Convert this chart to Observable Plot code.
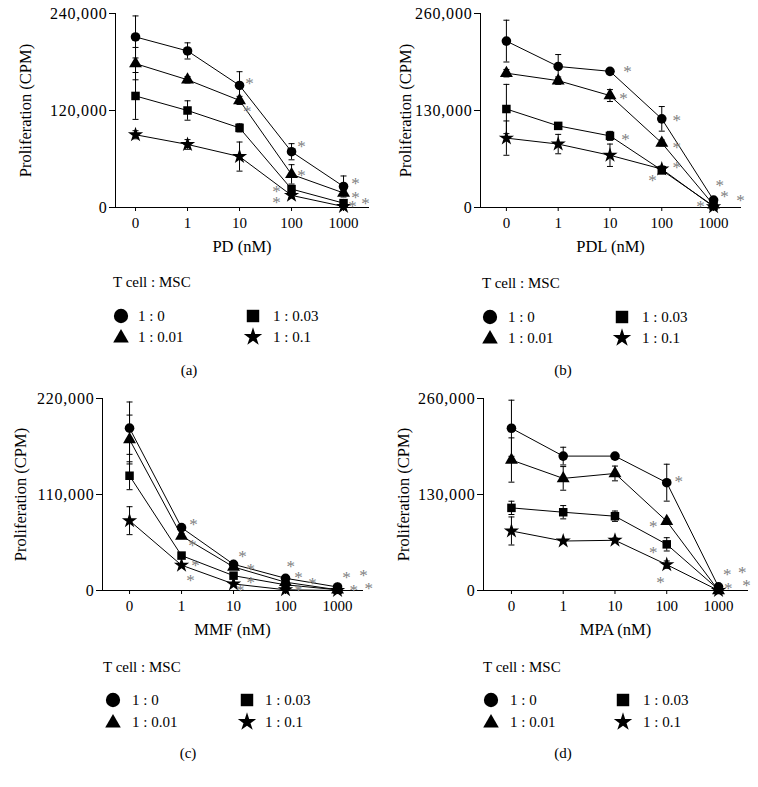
<!DOCTYPE html>
<html><head><meta charset="utf-8">
<script src="https://cdn.jsdelivr.net/npm/d3@7"></script>
<script src="https://cdn.jsdelivr.net/npm/@observablehq/plot@0.6"></script>
<style>
body{margin:0;background:#fff;}
#root{position:relative;width:758px;height:787px;background:#fff;font-family:"Liberation Serif","DejaVu Serif",serif;color:#000;overflow:hidden;}
.panel{position:absolute;}
.t{position:absolute;font-size:15px;white-space:nowrap;line-height:16px;height:16px;}
.sym{position:absolute;}
.ytk text{font-size:16px;letter-spacing:0.8px;}
</style></head><body><div id="root"></div>
<script>
// ---------- data ----------
const doses = ["0", "1", "10", "100", "1000"];
const seriesNames = ["1 : 0", "1 : 0.01", "1 : 0.03", "1 : 0.1"];
const seriesSymbols = ["circle", "triangle", "square", "star"];
const panelLetters = ["(a)", "(b)", "(c)", "(d)"];
const xLabels = ["PD (nM)", "PDL (nM)", "MMF (nM)", "MPA (nM)"];
const yMaxes = [240000, 260000, 220000, 260000];
const yLabel = "Proliferation (CPM)";
const legendTitle = "T cell : MSC";

// (a) PD
const aMean = [
  [211000, 193700, 151000, 69000, 26000],
  [178000, 158000, 132500, 41000, 18000],
  [138000, 120000, 98500, 22800, 5400],
  [90000, 78000, 63000, 15000, 1200]
];
const aErr = [
  [26000, 10000, 17000, 10000, 13000],
  [20000, 4000, 5000, 12000, 3000],
  [29000, 12000, 5000, 4000, 2000],
  [5000, 6000, 18000, 3000, 1000]
];
const aStars = [[2.19, 157100], [2.15, 122500], [3.19, 79200], [3.19, 43300], [2.71, 23500], [2.71, 9900],
  [4.23, 33400], [4.23, 16100], [4.17, 4900], [4.42, 8700]];

// (b) PDL
const bMean = [
  [223000, 189000, 182500, 118800, 10000],
  [180000, 170000, 150000, 86500, 3500],
  [132000, 109400, 96000, 50000, 2000],
  [93000, 85000, 70000, 51500, 1000]
];
const bErr = [
  [28000, 16000, 2000, 16500, 2000],
  [5000, 5000, 8000, 4000, 1000],
  [33000, 3000, 6000, 5000, 1000],
  [23000, 13000, 15000, 4000, 500]
];
const bStars = [[2.34, 186300], [2.26, 150100], [2.30, 95200], [3.29, 120600], [3.29, 84400], [3.29, 57600],
  [2.82, 40200], [4.12, 33500], [4.21, 18800], [4.52, 13400], [3.75, 5400]];

// (c) MMF
const cMean = [
  [186000, 72000, 30000, 14000, 4000],
  [173000, 62500, 27000, 9500, 800],
  [131500, 40000, 17000, 6500, 800],
  [80000, 29000, 7500, 800, 0]
];
const cErr = [
  [30000, 2000, 2000, 2000, 1000],
  [28000, 3000, 2000, 1500, 500],
  [16000, 2000, 2000, 1000, 300],
  [16000, 2000, 1500, 500, 200]
];
const cStars = [[1.23, 79100], [1.21, 55000], [1.27, 32100], [1.17, 14900], [2.17, 42400], [2.33, 27500],
  [2.33, 12600], [2.13, 3400], [3.10, 30900], [3.25, 18300], [3.52, 11500], [3.25, 3400],
  [4.17, 18300], [4.50, 20600], [4.31, 3400], [4.60, 5700]];

// (d) MPA
const dMean = [
  [219700, 182000, 182000, 146000, 5000],
  [176700, 151800, 158500, 93800, 0],
  [111900, 106000, 100600, 62500, 1300],
  [80600, 67000, 68000, 35000, 0]
];
const dErr = [
  [38000, 12000, 2000, 25000, 1000],
  [30000, 16000, 10000, 3000, 500],
  [9000, 9000, 7000, 9000, 500],
  [19000, 2000, 3000, 5000, 500]
];
const dStars = [[3.23, 151600], [2.74, 90700], [2.74, 55500], [2.88, 14900], [4.17, 25700], [4.46, 28400],
  [4.19, 6800], [4.54, 10800]];

// ---------- layout ----------
const layouts = [
  {left: 0, top: 0, width: 380, mL: 115, mR: 12, mT: 13, mB: 53, xd: [-0.385, 4.48], ylx: -90,
   leg: {tx: 113, ty: 282, r1: 316, r2: 337, s1: 121, t1: 138, s2: 253, t2: 273, cx: 189, cy: 370}},
  {left: 380, top: 0, width: 378, mL: 100, mR: 18, mT: 13, mB: 53, xd: [-0.5, 4.52], ylx: -75,
   leg: {tx: 482, ty: 283, r1: 317, r2: 338, s1: 490, t1: 508, s2: 622, t2: 642, cx: 563, cy: 370}},
  {left: 0, top: 385, width: 380, mL: 102, mR: 18, mT: 13, mB: 55, xd: [-0.52, 4.48], ylx: -82,
   leg: {tx: 103, ty: 667, r1: 700, r2: 722, s1: 113, t1: 132, s2: 247, t2: 265, cx: 188, cy: 753}},
  {left: 380, top: 385, width: 378, mL: 103, mR: 11, mT: 13, mB: 55, xd: [-0.54, 4.56], ylx: -80,
   leg: {tx: 483, ty: 667, r1: 700, r2: 722, s1: 491, t1: 510, s2: 623, t2: 643, cx: 563, cy: 753}}
];
const PH = 260;
const means = [aMean, bMean, cMean, dMean];
const errs = [aErr, bErr, cErr, dErr];
const starsets = [aStars, bStars, cStars, dStars];

const cap = {draw(ctx, size) { ctx.moveTo(-3, 0); ctx.lineTo(3, 0); }};
const root = document.getElementById("root");

function addText(txt, x, y, anchor) {
  const el = document.createElement("div");
  el.className = "t";
  el.textContent = txt;
  el.style.top = (y - 8) + "px";
  el.style.left = x + "px";
  if (anchor === "middle") el.style.transform = "translateX(-50%)";
  root.appendChild(el);
}
const symMap = {circle: d3.symbolCircle, triangle: d3.symbolTriangle, square: d3.symbolSquare, star: d3.symbolStar};
const symSize = {circle: 160, triangle: 105, square: 155, star: 105};
function addSym(name, cx, cy) {
  const ns = "http://www.w3.org/2000/svg";
  const svg = document.createElementNS(ns, "svg");
  svg.setAttribute("width", 20); svg.setAttribute("height", 20);
  svg.setAttribute("class", "sym");
  svg.style.left = (cx - 10) + "px"; svg.style.top = (cy - 10) + "px";
  const p = document.createElementNS(ns, "path");
  p.setAttribute("d", d3.symbol(symMap[name], symSize[name])());
  p.setAttribute("transform", name === "triangle" ? "translate(10,11)" : "translate(10,10)");
  p.setAttribute("fill", "black");
  svg.appendChild(p);
  root.appendChild(svg);
}

layouts.forEach((L, k) => {
  const rows = [];
  means[k].forEach((arr, s) => arr.forEach((v, i) => rows.push({s: seriesNames[s], i, v, e: errs[k][s][i]})));
  const yMax = yMaxes[k];
  const chart = Plot.plot({
    width: L.width, height: PH,
    marginLeft: L.mL, marginRight: L.mR, marginTop: L.mT, marginBottom: L.mB,
    style: {fontFamily: "'Liberation Serif', 'DejaVu Serif', serif", fontSize: "15px", background: "transparent", color: "black", overflow: "visible"},
    x: {domain: L.xd, ticks: [0, 1, 2, 3, 4], tickFormat: i => doses[i], tickSize: 4, tickPadding: 6, line: true, label: null},
    y: {domain: [0, yMax], ticks: [0, yMax / 2, yMax], tickFormat: d3.format(","), tickSize: 6, tickPadding: 2, line: true, label: null},
    symbol: {domain: seriesNames, range: seriesSymbols},
    marks: [
      Plot.line(rows, {x: "i", y: "v", z: "s", stroke: "black", strokeWidth: 1}),
      Plot.ruleX(rows, {x: "i", y1: d => Math.max(0, d.v - d.e), y2: d => d.v + d.e, stroke: "black", strokeWidth: 1}),
      Plot.dot(rows, {x: "i", y: d => d.v + d.e, symbol: cap, stroke: "black", strokeWidth: 1, fill: "none"}),
      Plot.dot(rows, {x: "i", y: d => Math.max(0, d.v - d.e), symbol: cap, stroke: "black", strokeWidth: 1, fill: "none"}),
      Plot.dot(rows, {x: "i", y: "v", symbol: "s", fill: "black", stroke: "none", r: 4.8}),
      Plot.text(starsets[k], {x: d => d[0], y: d => d[1], text: () => "*", fill: "#808080", fontSize: 17, dy: 3}),
      Plot.text([xLabels[k]], {frameAnchor: "bottom", text: d => d, dy: 44, fontSize: 16.5}),
      Plot.text([yLabel], {frameAnchor: "left", textAnchor: "middle", text: d => d, rotate: -90, dx: L.ylx, fontSize: 16.5})
    ]
  });
  // enlarge y tick labels to match reference
  chart.querySelectorAll("g[aria-label='y-axis tick label']").forEach(g => g.classList.add("ytk"));
  const wrap = document.createElement("div");
  wrap.className = "panel";
  wrap.style.left = L.left + "px"; wrap.style.top = L.top + "px";
  wrap.appendChild(chart);
  root.appendChild(wrap);

  const g = L.leg;
  addText(legendTitle, g.tx, g.ty);
  addSym("circle", g.s1, g.r1); addText(seriesNames[0], g.t1, g.r1);
  addSym("triangle", g.s1, g.r2); addText(seriesNames[1], g.t1, g.r2);
  addSym("square", g.s2, g.r1); addText(seriesNames[2], g.t2, g.r1);
  addSym("star", g.s2, g.r2); addText(seriesNames[3], g.t2, g.r2);
  addText(panelLetters[k], g.cx, g.cy, "middle");
});
</script></body></html>
